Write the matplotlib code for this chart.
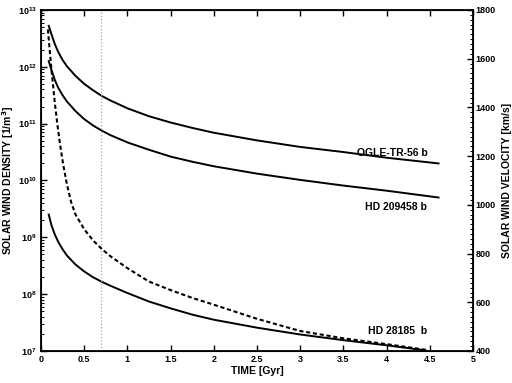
import matplotlib
matplotlib.use("Agg")
import matplotlib.pyplot as plt
from matplotlib.ticker import LogLocator, MultipleLocator, NullFormatter

plt.rcParams['font.family'] = ['Liberation Sans', 'DejaVu Sans']
plt.rcParams['font.weight'] = 'bold'

# time [Gyr] and log10 density [1/m^3]
t_ogle = [0.09, 0.12, 0.16, 0.2, 0.25, 0.3, 0.4, 0.5, 0.6, 0.7, 0.8, 1.0, 1.25, 1.5,
          1.75, 2.0, 2.5, 3.0, 3.5, 4.0, 4.6]
d_ogle = [12.72, 12.58, 12.40, 12.26, 12.12, 12.01, 11.84, 11.70, 11.59, 11.49, 11.41,
          11.27, 11.13, 11.02, 10.925, 10.84, 10.705, 10.59, 10.50, 10.40, 10.30]

t_hd209 = [0.09, 0.12, 0.16, 0.2, 0.25, 0.3, 0.4, 0.5, 0.6, 0.7, 0.8, 1.0, 1.25, 1.5,
           1.75, 2.0, 2.5, 3.0, 3.5, 4.0, 4.6]
d_hd209 = [12.10, 11.95, 11.77, 11.63, 11.50, 11.39, 11.22, 11.08, 10.97, 10.88, 10.80,
           10.67, 10.54, 10.42, 10.33, 10.25, 10.12, 10.01, 9.91, 9.82, 9.70]

t_hd28 = [0.09, 0.12, 0.16, 0.2, 0.25, 0.3, 0.4, 0.5, 0.6, 0.7, 0.8, 1.0, 1.25, 1.5,
          1.75, 2.0, 2.5, 3.0, 3.5, 4.0, 4.45]
d_hd28 = [9.40, 9.22, 9.05, 8.92, 8.79, 8.68, 8.52, 8.40, 8.30, 8.22, 8.15, 8.02, 7.87,
          7.75, 7.64, 7.55, 7.41, 7.29, 7.19, 7.10, 7.01]

# solar wind velocity [km/s]
t_vel = [0.08, 0.10, 0.12, 0.14, 0.16, 0.19, 0.22, 0.26, 0.30, 0.35, 0.40, 0.5, 0.6, 0.7,
         0.8, 1.0, 1.25, 1.5, 1.75, 2.0, 2.5, 3.0, 3.5, 4.0, 4.45]
v_vel = [1720, 1640, 1560, 1490, 1420, 1330, 1250, 1160, 1085, 1010, 960, 900, 855, 820,
         790, 740, 685, 650, 618, 590, 532, 482, 452, 428, 405]

labels = ["OGLE-TR-56 b", "HD 209458 b", "HD 28185  b"]
label_t = [4.47, 4.47, 4.47]
label_d = [10.48, 9.53, 7.35]

fig = plt.figure(figsize=(5.12, 3.83), dpi=100)
ax = fig.add_axes([0.080, 0.0836, 0.844, 0.8904])

for tt, dd in [(t_ogle, d_ogle), (t_hd209, d_hd209), (t_hd28, d_hd28)]:
    ax.plot(tt, [10 ** v for v in dd], color='black', lw=1.4)

ax.axvline(0.7, color='#aaaaaa', lw=0.9, ls=':')

ax.set_yscale('log')
ax.set_ylim(1e7, 1e13)
ax.set_xlim(0, 5)
ax.set_xticks([0, 0.5, 1, 1.5, 2, 2.5, 3, 3.5, 4, 4.5, 5])
ax.set_xticklabels(['0', '0.5', '1', '1.5', '2', '2.5', '3', '3.5', '4', '4.5', '5'])
ax.yaxis.set_major_locator(LogLocator(base=10, numticks=10))
ax.yaxis.set_minor_locator(LogLocator(base=10, subs=[0.1 * i for i in range(1, 10)], numticks=100))
ax.yaxis.set_minor_formatter(NullFormatter())
ax.tick_params(axis='both', which='major', direction='in', length=4, width=1, labelsize=6.5, pad=3)
ax.tick_params(axis='x', which='major', top=True)
ax.tick_params(axis='y', which='minor', direction='in', length=2, width=0.7)
for sp in ax.spines.values():
    sp.set_linewidth(1.3)

ax.set_xlabel('TIME [Gyr]', fontsize=7.5, fontweight='bold', labelpad=1)
ax.set_ylabel('SOLAR WIND DENSITY [1/m$^3$]', fontsize=7.5, fontweight='bold')
ax.yaxis.set_label_coords(-0.057, 0.5)

for lab, lt, ld in zip(labels, label_t, label_d):
    ax.text(lt, 10 ** ld, lab, fontsize=7.5, fontweight='bold', ha='right', va='center')

ax2 = ax.twinx()
ax2.plot(t_vel, v_vel, color='black', lw=1.5, ls=(0, (2.0, 1.3)))
ax2.set_ylim(400, 1800)
ax2.yaxis.set_major_locator(MultipleLocator(200))
ax2.yaxis.set_minor_locator(MultipleLocator(20))
ax2.tick_params(axis='y', which='major', direction='in', length=4, width=1, labelsize=6.5, pad=2)
ax2.tick_params(axis='y', which='minor', direction='in', length=2, width=0.7)
ax2.set_ylabel('SOLAR WIND VELOCITY [km/s]', fontsize=7.5, fontweight='bold')
ax2.yaxis.set_label_coords(1.066, 0.5)

fig.savefig('out.png', dpi=100)
